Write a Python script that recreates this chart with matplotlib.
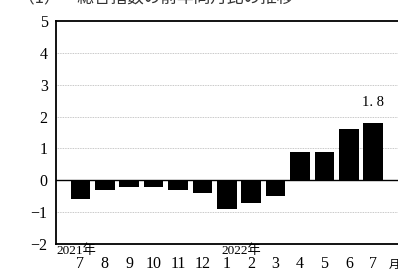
import numpy as np
import matplotlib.pyplot as plt

months = ["7", "8", "9", "10", "11", "12", "1", "2", "3", "4", "5", "6", "7"]
values = [-0.6, -0.3, -0.2, -0.2, -0.3, -0.4, -0.9, -0.7, -0.5, 0.9, 0.9, 1.6, 1.8]
year_labels = ["2021年", "2022年"]
yticks = [-2, -1, 0, 1, 2, 3, 4, 5]

serif = ["Liberation Serif", "Noto Sans CJK JP"]
jp = ["Noto Sans CJK JP", "DejaVu Sans"]

fig = plt.figure(figsize=(3.98, 2.74), dpi=100)
ax = fig.add_axes([0.1407, 0.1095, 0.889, 0.8139])

x = np.arange(len(values))
ax.bar(x, values, width=0.8, color="black", zorder=3)
ax.axhline(0, color="black", lw=1.0, zorder=4)

ax.set_xlim(-1, 13.5)
ax.set_ylim(-2, 5)
ax.set_yticks(yticks)
ax.set_yticklabels([str(v).replace("-", "\u2212") for v in yticks], family=serif, fontsize=11.5)
for v in yticks:
    if v not in (0, -2, 5):
        ax.axhline(v, color="#b5b5b5", lw=0.6, ls=(0, (1, 1)), zorder=1)

ax.set_xticks(x)
ax.set_xticklabels(months, family=serif, fontsize=11.5)
ax.tick_params(length=0, pad=6)
ax.tick_params(axis="x", pad=9)

ax.text(-0.98, -2.02, year_labels[0], family=serif, fontsize=9.5, ha="left", va="top")
ax.text(5.8, -2.02, year_labels[1], family=serif, fontsize=9.5, ha="left", va="top")
ax.text(12.62, -2.5, "月", family=jp, fontsize=8, ha="left", va="top")

ax.text(12, values[-1] + 0.45, "1. 8", family=serif, fontsize=10.5, ha="center", va="bottom")

for s in ax.spines.values():
    s.set_linewidth(1.3)
    s.set_color("black")

fig.text(0.045, 1.005, "（1）　総合指数の前年同月比の推移", family=jp, fontsize=12, color="#333333",
         ha="left", va="center")

fig.savefig("out.png", dpi=100)
